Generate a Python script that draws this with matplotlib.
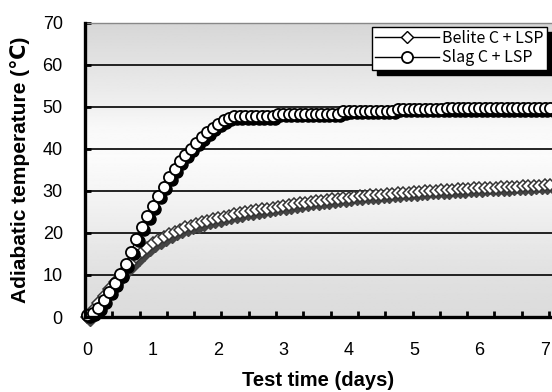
import numpy as np
import matplotlib
matplotlib.use("Agg")
import matplotlib.pyplot as plt
import matplotlib.transforms as mtransforms
from matplotlib.lines import Line2D

plt.rcParams['font.family'] = ['Liberation Sans', 'DejaVu Sans']

# ---- data (2-hour intervals) ----
time_days = [i / 12 for i in range(86)]
slag_temp = [0.5, 1.0, 2.2, 4.0, 6.0, 8.0, 10.2, 12.6, 15.5, 18.6,
             21.4, 24.0, 26.4, 28.8, 31.0, 33.2, 35.2, 37.0, 38.6, 40.0,
             41.4, 42.8, 44.0, 45.0, 46.0, 46.8, 47.4, 47.7, 47.8, 47.8,
             47.8, 47.8, 47.8, 47.8, 47.8, 48.3, 48.3, 48.3, 48.3, 48.3,
             48.3, 48.3, 48.3, 48.3, 48.3, 48.3, 48.3, 48.9, 49.0, 49.0,
             49.0, 49.0, 49.0, 49.0, 49.0, 49.0, 49.0, 49.5, 49.5, 49.5,
             49.5, 49.5, 49.5, 49.5, 49.5, 49.5, 49.6, 49.6, 49.6, 49.6,
             49.6, 49.6, 49.6, 49.6, 49.6, 49.6, 49.6, 49.7, 49.7, 49.7,
             49.7, 49.7, 49.7, 49.7, 49.7, 49.7]
belite_temp = [0.0, 1.6, 3.3, 5.0, 6.7, 8.4, 10.0, 11.5, 12.9, 14.2,
               15.4, 16.5, 17.5, 18.3, 19.0, 19.7, 20.3, 20.8, 21.3, 21.7,
               22.1, 22.5, 22.9, 23.2, 23.5, 23.8, 24.1, 24.4, 24.7, 25.0,
               25.2, 25.4, 25.6, 25.8, 26.0, 26.2, 26.4, 26.6, 26.8, 27.0,
               27.2, 27.4, 27.5, 27.7, 27.8, 28.0, 28.1, 28.3, 28.4, 28.6,
               28.7, 28.8, 28.9, 29.0, 29.1, 29.2, 29.3, 29.4, 29.5, 29.6,
               29.7, 29.8, 29.9, 30.0, 30.0, 30.1, 30.2, 30.3, 30.4, 30.4,
               30.5, 30.6, 30.6, 30.7, 30.8, 30.8, 30.9, 30.9, 31.0, 31.0,
               31.1, 31.1, 31.2, 31.2, 31.3, 31.3]
x_labels = ['0', '1', '2', '3', '4', '5', '6', '7']
y_ticks = [0, 10, 20, 30, 40, 50, 60, 70]

fig = plt.figure(figsize=(5.52, 3.92), dpi=100)
ax = fig.add_axes([85/552, 1 - 317/392, 467/552, (317-22.7)/392])

xmin, xmax = -0.038, 7.113
ax.set_xlim(xmin, xmax)
ax.set_ylim(0, 70)

# gradient background
yy = np.linspace(0, 70, 200)
gv = np.interp(yy, [0, 10, 20, 30, 38, 45, 50, 60, 70],
               [0.86, 0.88, 0.92, 0.96, 0.985, 0.975, 0.94, 0.89, 0.84])
ax.imshow(gv[:, None], extent=[xmin, xmax, 0, 70], origin='lower',
          aspect='auto', cmap='gray', vmin=0, vmax=1, zorder=0)

for y in y_ticks[1:-1]:
    ax.axhline(y, color='black', lw=1.2, zorder=1)

shadow = mtransforms.offset_copy(ax.transData, fig=fig, x=2.5, y=-2.5, units='dots')

# belite
ax.plot(time_days, belite_temp, ls='none', marker='D', ms=6.0, mfc='#444444',
        mec='#444444', transform=shadow, zorder=2, clip_on=False)
ax.plot(time_days, belite_temp, color='#555555', lw=1, marker='D', ms=6.0,
        mfc='white', mec='#333333', mew=1.1, zorder=3, clip_on=False)
# slag
ax.plot(time_days, slag_temp, ls='none', marker='o', ms=8.0, mfc='black',
        mec='black', transform=shadow, zorder=4, clip_on=False)
ax.plot(time_days, slag_temp, color='black', lw=1, marker='o', ms=8.0,
        mfc='white', mec='black', mew=1.3, zorder=5, clip_on=False)

# spines
ax.spines['right'].set_visible(False)
ax.spines['top'].set_color('#888888')
ax.spines['top'].set_linewidth(1.0)
ax.spines['left'].set_linewidth(2.4)
ax.spines['bottom'].set_linewidth(2.4)
ax.spines['left'].set_zorder(6)
ax.spines['bottom'].set_zorder(6)

ax.set_yticks(y_ticks)
ax.tick_params(axis='y', direction='in', length=4, width=2, labelsize=13, pad=16)
ax.set_xticks(range(len(x_labels)))
ax.set_xticklabels(x_labels)
ax.tick_params(axis='x', which='major', length=0, labelsize=13, pad=18)
ax.set_xticks([xmin + k * 0.418 for k in range(1, 18)], minor=True)
ax.tick_params(axis='x', which='minor', direction='in', length=4, width=2)

ax.set_xlabel('Test time (days)', fontsize=14.5, fontweight='bold', labelpad=9)
ax.set_ylabel('Adiabatic temperature (℃)', fontsize=15, fontweight='bold', labelpad=9)

handles = [Line2D([], [], color='black', lw=1, marker='D', ms=6, mfc='white', mec='black'),
           Line2D([], [], color='black', lw=1, marker='o', ms=8, mfc='white', mec='black', mew=1.3)]
leg = ax.legend(handles, ['Belite C + LSP', 'Slag C + LSP'], loc='upper right',
                bbox_to_anchor=(0.989, 0.986), borderaxespad=0, fancybox=False,
                framealpha=1, edgecolor='black', handlelength=4.0, handletextpad=0.2,
                borderpad=0.2, labelspacing=0.15,
                prop={'family': ['Liberation Sans Narrow', 'Noto Sans CJK KR'], 'size': 11.5},
                shadow={'color': 'black', 'alpha': 1, 'ox': 4, 'oy': -4})
leg.get_frame().set_linewidth(1.0)
leg.set_zorder(10)

fig.savefig('out.png', dpi=100)
